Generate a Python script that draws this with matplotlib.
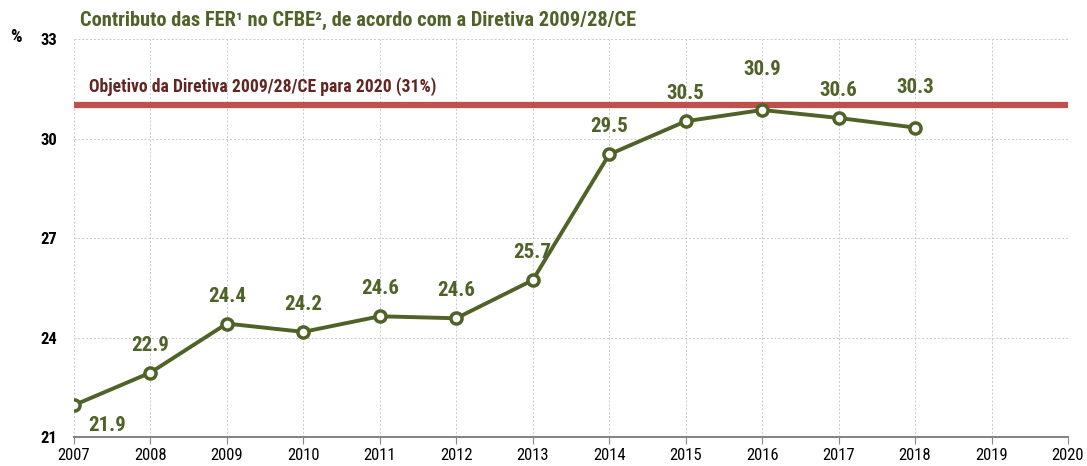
import numpy as np
import matplotlib.pyplot as plt

plt.rcParams['font.family'] = ['Roboto Condensed', 'Liberation Sans', 'DejaVu Sans']

years = [2007, 2008, 2009, 2010, 2011, 2012, 2013, 2014, 2015, 2016, 2017, 2018]
share = [21.96, 22.94, 24.42, 24.17, 24.64, 24.58, 25.73, 29.52, 30.52, 30.86, 30.62, 30.33]
labels = ['21.9', '22.9', '24.4', '24.2', '24.6', '24.6', '25.7', '29.5', '30.5', '30.9', '30.6', '30.3']
target = 31
xticks = list(range(2007, 2021))
yticks = [21, 24, 27, 30, 33]

green = '#4F6228'
red = '#C0504D'

fig = plt.figure(figsize=(10.87, 4.66), dpi=100)
ax = fig.add_axes([0.068, 0.0622, 0.9145, 0.8541])

ax.set_xlim(2007, 2020)
ax.set_ylim(21, 33)
ax.set_xticks(xticks)
ax.set_yticks(yticks)
ax.grid(True, color='#C8C8C8', linestyle=(0, (2, 2)), linewidth=0.7)
ax.set_axisbelow(True)

for s in ['left', 'top', 'right']:
    ax.spines[s].set_visible(False)
ax.spines['bottom'].set_color('#868686')
ax.spines['bottom'].set_linewidth(1.5)
ax.tick_params(axis='x', direction='out', length=5, color='#868686', labelsize=12, pad=3)
ax.tick_params(axis='y', length=0, labelsize=12, pad=12)
for t in ax.get_yticklabels():
    t.set_fontweight('bold')

ax.axhline(target, color=red, linewidth=4.5, zorder=3)
ax.text(2007.2, target + 0.28, 'Objetivo da Diretiva 2009/28/CE para 2020 (31%)',
        color='#632523', fontsize=12.7, fontweight='bold', va='bottom', ha='left')

ax.plot(years, share, color=green, linewidth=2.8, marker='o', markersize=8,
        markerfacecolor='white', markeredgecolor=green, markeredgewidth=2.5, zorder=4)

for i, (x, y, lab) in enumerate(zip(years, share, labels)):
    if i == 0:
        off = (24, -8)
    elif x in (2016, 2018):
        off = (0, 22)
    else:
        off = (0, 13)
    ax.annotate(lab, (x, y), xytext=off, textcoords='offset points',
                ha='center', va='bottom' if off[1] > 0 else 'top',
                color=green, fontsize=15, fontweight='bold')

fig.text(80 / 1087, 1 - 20 / 466, 'Contributo das FER¹ no CFBE², de acordo com a Diretiva 2009/28/CE',
         color=green, fontsize=14.7, fontweight='bold', va='center', ha='left')
fig.text(10 / 1087, 1 - 37 / 466, '%', fontsize=13, fontweight='bold', va='center', ha='left')

fig.savefig('out.png', dpi=100)
